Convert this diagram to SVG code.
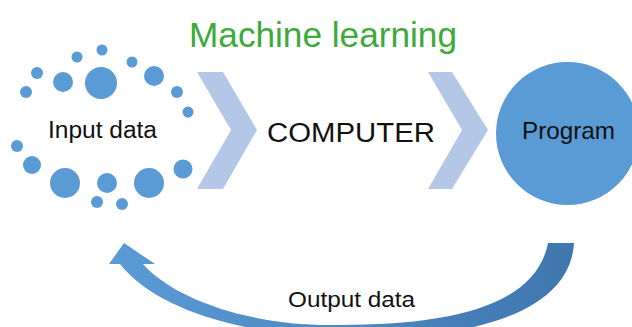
<svg xmlns="http://www.w3.org/2000/svg" width="632" height="327" viewBox="0 0 632 327">
<style>
.dot{fill:#5b9bd5}
.chev{fill:#b4c7e7}
.lbl{font-family:"Liberation Sans",Arial,sans-serif;fill:#111}
</style>
<defs>
<linearGradient id="arrowGrad" gradientUnits="userSpaceOnUse" x1="109" y1="0" x2="574" y2="0">
<stop offset="0" stop-color="#5b9bd5"/>
<stop offset="1" stop-color="#3f76ae"/>
</linearGradient>
</defs>
<rect width="632" height="327" fill="#fff"/>
<text x="189" y="47" font-family="'Liberation Sans',Arial,sans-serif" font-size="35" fill="#3daa3a" textLength="268" lengthAdjust="spacingAndGlyphs">Machine learning</text>
<g id="input-data">
<circle class="dot" cx="102" cy="50" r="5.5"/>
<circle class="dot" cx="77" cy="57" r="5.5"/>
<circle class="dot" cx="132" cy="62" r="5.5"/>
<circle class="dot" cx="37" cy="73" r="6"/>
<circle class="dot" cx="63" cy="82" r="10"/>
<circle class="dot" cx="101" cy="83" r="16"/>
<circle class="dot" cx="154" cy="76" r="10"/>
<circle class="dot" cx="26" cy="92" r="6"/>
<circle class="dot" cx="177" cy="92" r="6"/>
<circle class="dot" cx="188" cy="112" r="5.5"/>
<circle class="dot" cx="17" cy="146" r="6"/>
<circle class="dot" cx="32" cy="165" r="9"/>
<circle class="dot" cx="65" cy="183" r="15"/>
<circle class="dot" cx="107" cy="183" r="10"/>
<circle class="dot" cx="149" cy="183" r="15"/>
<circle class="dot" cx="183" cy="169" r="9.5"/>
<circle class="dot" cx="97" cy="202" r="6"/>
<circle class="dot" cx="122" cy="204" r="6"/>
<text class="lbl" x="48" y="138" font-size="23" textLength="109" lengthAdjust="spacingAndGlyphs">Input data</text>
</g>
<g id="computer">
<text class="lbl" x="267" y="142" font-size="27" textLength="168" lengthAdjust="spacingAndGlyphs">COMPUTER</text>
</g>
<g id="program">
<circle cx="567.5" cy="133.5" r="71.5" fill="#5b9bd5"/>
<text class="lbl" x="522" y="139" font-size="24" textLength="93" lengthAdjust="spacingAndGlyphs">Program</text>
</g>
<g id="connectors">
<polygon class="chev" points="197,72 223,72 257,130 223,189 197,189 231,130"/>
<polygon class="chev" points="428,72 452,72 488,130 452,189 428,189 462,130"/>
<path d="M124,243 L155,264 L143,264 C175,300 250,325 330,325 C440,326 535,310 548,243 L574,243 C570,310 480,338 360,338 C260,338 160,315 120,264 L109,264 Z" fill="url(#arrowGrad)"/>
<text class="lbl" x="288" y="307" font-size="22" textLength="127" lengthAdjust="spacingAndGlyphs">Output data</text>
</g>
</svg>
